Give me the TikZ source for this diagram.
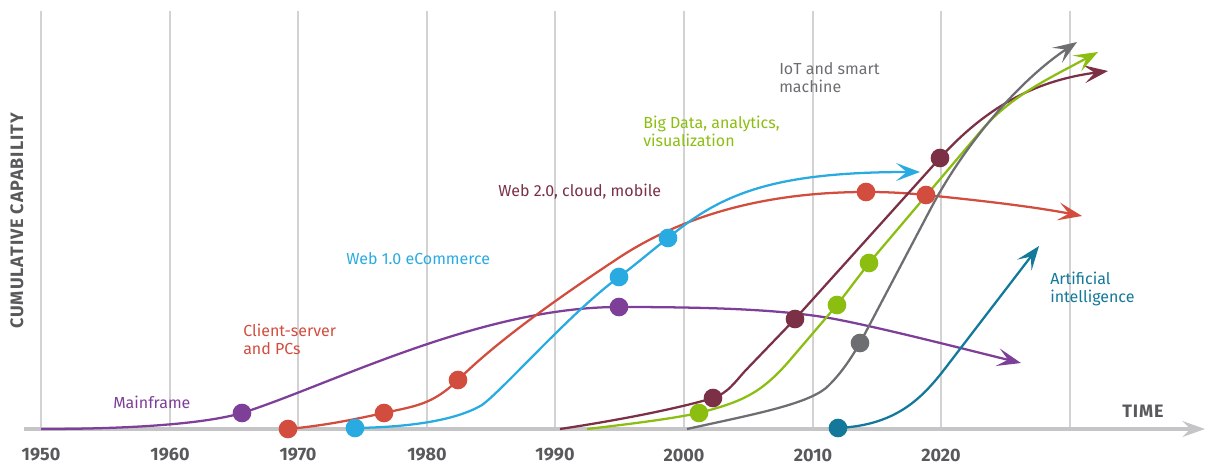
\documentclass[tikz,border=0pt]{standalone}
\usepackage{fontspec}
\setmainfont{Fira Sans}
\usetikzlibrary{arrows.meta}
\usetikzlibrary{backgrounds}

\definecolor{mfpurple}{RGB}{126,63,152}
\definecolor{csred}{RGB}{210,77,62}
\definecolor{wbcyan}{RGB}{41,171,226}
\definecolor{wtmaroon}{RGB}{123,48,69}
\definecolor{bdgreen}{RGB}{140,190,18}
\definecolor{iotgrey}{RGB}{109,110,113}
\definecolor{aiteal}{RGB}{19,120,154}
\definecolor{gridgrey}{RGB}{210,210,210}
\definecolor{axisgrey}{RGB}{197,197,200}
\definecolor{axistext}{RGB}{88,89,91}

\tikzset{
  grid line/.style={draw=gridgrey, line width=0.8pt},
  time axis/.style={draw=axisgrey, line width=2.3pt, -{Stealth[length=17pt,width=12pt,inset=6pt]}},
  curve/.style={line width=1.7pt, -{Stealth[length=18pt,width=13.5pt,inset=8pt]}},
  dot/.style={circle, inner sep=0pt, minimum size=14pt, fill=#1},
  lbl/.style={anchor=west, inner sep=0pt, align=left, font=\fontsize{12}{13.5}\selectfont},
  year/.style={inner sep=0pt, text=axistext, font=\fontsize{13.5}{15}\selectfont\bfseries},
  caps/.style={inner sep=0pt, text=axistext, font=\fontsize{13.5}{15}\selectfont\bfseries\addfontfeatures{LetterSpace=5}},
}

\begin{document}
\begin{tikzpicture}[x=0.75pt,y=0.75pt,yscale=-1,xscale=1]
\useasboundingbox (0,0) rectangle (1205,464);

% Dots
\node [dot=mfpurple] (mf1) at (242,413) {};
\node [dot=mfpurple] (mf2) at (619,307) {};
\node [dot=csred] (cs1) at (288,429) {};
\node [dot=csred] (cs2) at (384,413) {};
\node [dot=csred] (cs3) at (458,380) {};
\node [dot=csred] (cs4) at (866,192) {};
\node [dot=csred] (cs5) at (926,195) {};
\node [dot=wbcyan] (wb1) at (355,428) {};
\node [dot=wbcyan] (wb2) at (619,277) {};
\node [dot=wbcyan] (wb3) at (668,238) {};
\node [dot=wtmaroon] (wt1) at (713,398) {};
\node [dot=wtmaroon] (wt2) at (795,319) {};
\node [dot=wtmaroon] (wt3) at (940,158) {};
\node [dot=bdgreen] (bd1) at (699,413) {};
\node [dot=bdgreen] (bd2) at (837,305) {};
\node [dot=bdgreen] (bd3) at (869,263) {};
\node [dot=iotgrey] (iot1) at (860,343) {};
\node [dot=aiteal] (ai1) at (838,428) {};

% Start and end points
\coordinate (origin) at (24,429);
\coordinate (timeend) at (1205,429);
\coordinate (mfstart) at (41,429);
\coordinate (mfend) at (1021,363);
\coordinate (csend) at (1082,216);
\coordinate (wbend) at (920,172);
\coordinate (wtstart) at (560,429);
\coordinate (wtend) at (1108,71);
\coordinate (bdstart) at (587,429);
\coordinate (bdend) at (1098,52);
\coordinate (iotstart) at (687,429);
\coordinate (iotend) at (1077,42);
\coordinate (aiend) at (1039,246);

\begin{scope}[on background layer]
%Grid Lines
\draw [grid line] (41,11) -- (41,429);
\draw [grid line] (170,11) -- (170,429);
\draw [grid line] (298,11) -- (298,429);
\draw [grid line] (427,11) -- (427,429);
\draw [grid line] (555,11) -- (555,429);
\draw [grid line] (684,11) -- (684,429);
\draw [grid line] (813,11) -- (813,429);
\draw [grid line] (941,11) -- (941,429);
\draw [grid line] (1070,11) -- (1070,429);
%Time Axis
\draw [time axis] (origin) -- (timeend);

%Mainframe
\draw [curve, mfpurple] (mfstart) .. controls (120,429) and (200,425) .. (mf1.center) .. controls (330,385) and (480,307) .. (mf2.center) .. controls (720,307) and (790,310) .. (840,320) .. controls (890,330) and (960,348) .. (mfend);
%Client-server
\draw [curve, csred] (cs1.center) .. controls (330,425) and (360,418) .. (cs2.center) .. controls (415,406) and (432,405) .. (cs3.center) .. controls (500,338) and (570,290) .. (620,257) .. controls (680,218) and (760,192) .. (cs4.center) .. controls (890,192) and (905,193) .. (cs5.center) .. controls (975,200) and (1030,206) .. (csend);
%Web 1.0
\draw [curve, wbcyan] (wb1.center) .. controls (420,427) and (460,418) .. (482,405) .. controls (505,388) and (570,313) .. (wb2.center) .. controls (640,261) and (650,252) .. (wb3.center) .. controls (720,195) and (770,172) .. (wbend);
%Web 2.0
\draw [curve, wtmaroon] (wtstart) .. controls (620,420) and (680,408) .. (wt1.center) .. controls (728,393) and (735,382) .. (745,371) -- (wt2.center) -- (wt3.center) .. controls (990,103) and (1040,80) .. (wtend);
%Big Data
\draw [curve, bdgreen] (bdstart) .. controls (630,424) and (670,419) .. (bd1.center) .. controls (740,402) and (760,395) .. (790,360) -- (bd2.center) -- (bd3.center) -- (980,132) .. controls (1010,96) and (1050,78) .. (bdend);
%IoT
\draw [curve, iotgrey] (iotstart) .. controls (750,415) and (805,405) .. (826,388) .. controls (840,375) and (850,360) .. (iot1.center) -- (930,210) .. controls (965,143) and (1020,80) .. (iotend);
%Artificial intelligence
\draw [curve, aiteal] (ai1.center) .. controls (900,425) and (925,395) .. (950,362) -- (aiend);
\end{scope}

% Text Node
\node [lbl, mfpurple] (mflabel) at (113,402) {Mainframe};
\node [lbl, csred] (cslabel) at (243,339) {Client-server\\and PCs};
\node [lbl, wbcyan] (wblabel) at (346,259) {Web 1.0 eCommerce};
\node [lbl, wtmaroon] (wtlabel) at (498,192) {Web 2.0, cloud, mobile};
\node [lbl, bdgreen] (bdlabel) at (643,131) {Big Data, analytics,\\visualization};
\node [lbl, iotgrey] (iotlabel) at (779,78) {IoT and smart\\machine};
\node [lbl, aiteal] (ailabel) at (1050,289) {Artificial\\intelligence};
% Axis Labels
\node [year] (y1950) at (41,455) {1950};
\node [year] (y1960) at (170,455) {1960};
\node [year] (y1970) at (298,455) {1970};
\node [year] (y1980) at (427,455) {1980};
\node [year] (y1990) at (555,455) {1990};
\node [year] (y2000) at (684,455) {2000};
\node [year] (y2010) at (813,455) {2010};
\node [year] (y2020) at (941,455) {2020};
\node [caps] (timelabel) at (1143,411) {TIME};
\node [caps, rotate=90] (caplabel) at (17,221) {CUMULATIVE CAPABILITY};
\end{tikzpicture}
\end{document}
